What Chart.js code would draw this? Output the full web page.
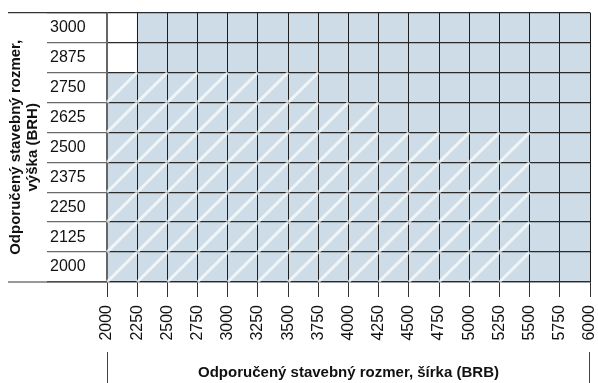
<!DOCTYPE html>
<html>
<head>
<meta charset="utf-8">
<script src="https://cdn.jsdelivr.net/npm/chart.js@4/dist/chart.umd.min.js"></script>
<style>
  html, body { margin: 0; padding: 0; background: #fff; }
  #wrap { width: 598px; height: 383px; position: relative; }
</style>
</head>
<body>
<div id="wrap"><canvas id="sizeChart"></canvas></div>
<script>
// -----------------------------
// DATA
// -----------------------------
const heights = ['2000', '2125', '2250', '2375', '2500', '2625', '2750', '2875', '3000'];
const widthTicks = [2000, 2250, 2500, 2750, 3000, 3250, 3500, 3750, 4000, 4250, 4500, 4750, 5000, 5250, 5500, 5750, 6000];

// filled range per row (width from .. to)
const rowStart = [2000, 2000, 2000, 2000, 2000, 2000, 2000, 2250, 2250];
const rowEnd = [6000, 6000, 6000, 6000, 6000, 6000, 6000, 6000, 6000];

// hatched (diagonal) range per row, null = no hatch
const hatchStart = [2000, 2000, 2000, 2000, 2000, 2000, 2000, null, null];
const hatchEnd = [5500, 5500, 5500, 5500, 5500, 4250, 3750, null, null];

const xTitle = 'Odporučený stavebný rozmer, šírka (BRB)';
const yTitle = ['Odporučený stavebný rozmer,', 'výška (BRH)'];

const FONT = "'Liberation Sans', Arial, Helvetica, sans-serif";

// -----------------------------
// HATCH, TITLES, EXTRA LINES
// -----------------------------
const extras = {
    id: 'extras',
    afterDraw(chart) {
        const ctx = chart.ctx;
        const area = chart.chartArea;
        const xs = chart.scales.x;
        const ys = chart.scales.y;
        const rowH = area.height / heights.length;

        // diagonal hatch per cell
        ctx.save();
        ctx.strokeStyle = 'rgba(255,255,255,0.7)';
        ctx.lineWidth = 3;
        heights.forEach((h, i) => {
            if (hatchEnd[i] == null) return;
            const yc = ys.getPixelForValue(i);
            const yb = yc + rowH / 2;
            const yt = yc - rowH / 2;
            for (let k = 0; k < widthTicks.length - 1; k++) {
                const a = widthTicks[k];
                const b = widthTicks[k + 1];
                if (a < hatchStart[i] || b > hatchEnd[i]) continue;
                ctx.beginPath();
                ctx.moveTo(xs.getPixelForValue(a), yb);
                ctx.lineTo(xs.getPixelForValue(b), yt);
                ctx.stroke();
            }
        });
        ctx.restore();

        // long top / bottom rules across the label column
        ctx.save();
        ctx.strokeStyle = '#333';
        ctx.lineWidth = 1.2;
        ctx.beginPath();
        ctx.moveTo(8, area.top);
        ctx.lineTo(area.left, area.top);
        ctx.moveTo(8, area.bottom);
        ctx.lineTo(area.left, area.bottom);
        ctx.stroke();

        // bracket lines around x title
        ctx.strokeStyle = '#444';
        ctx.lineWidth = 1;
        ctx.beginPath();
        ctx.moveTo(area.left + 0.5, 352);
        ctx.lineTo(area.left + 0.5, chart.height);
        ctx.moveTo(area.right - 0.5, 352);
        ctx.lineTo(area.right - 0.5, chart.height);
        ctx.stroke();

        // titles
        ctx.fillStyle = '#111';
        ctx.font = 'bold 15px ' + FONT;
        ctx.textAlign = 'center';
        ctx.textBaseline = 'middle';
        ctx.fillText(xTitle, (area.left + area.right) / 2, 373);

        ctx.translate(0, (area.top + area.bottom) / 2);
        ctx.rotate(-Math.PI / 2);
        ctx.fillText(yTitle[0], 0, 16);
        ctx.fillText(yTitle[1], 0, 33);
        ctx.restore();
    }
};

// -----------------------------
// CHART
// -----------------------------
new Chart(document.getElementById('sizeChart'), {
    type: 'bar',
    data: {
        labels: heights,
        datasets: [
            {
                data: heights.map((h, i) => [rowStart[i], rowEnd[i]]),
                backgroundColor: '#cddce6',
                borderWidth: 0,
                barPercentage: 1,
                categoryPercentage: 1
            }
        ]
    },
    options: {
        indexAxis: 'y',
        responsive: true,
        maintainAspectRatio: false,
        animation: false,
        layout: { padding: { left: 50, right: 8, top: 10, bottom: 0 } },
        plugins: {
            legend: { display: false },
            tooltip: { enabled: false }
        },
        scales: {
            x: {
                type: 'linear',
                position: 'bottom',
                min: 2000,
                max: 6000,
                afterBuildTicks: s => { s.ticks = widthTicks.map(v => ({ value: v })); },
                afterFit: s => { s.height = 101; s.paddingLeft = 0; s.paddingRight = 0; },
                ticks: {
                    autoSkip: false,
                    minRotation: 90,
                    maxRotation: 90,
                    padding: 8,
                    color: '#111',
                    font: { family: FONT, size: 16 },
                    callback: v => String(v)
                },
                grid: {
                    z: 1,
                    color: '#1e1e1e',
                    lineWidth: 1,
                    tickLength: 15,
                    tickColor: '#333'
                },
                border: { display: true, color: '#222', width: 1.2, z: 1 }
            },
            y: {
                type: 'category',
                reverse: true,
                offset: true,
                afterFit: s => { s.width = 57; },
                ticks: {
                    crossAlign: 'far',
                    color: '#111',
                    font: { family: FONT, size: 16 }
                },
                grid: {
                    z: 1,
                    offset: true,
                    color: '#2a2a2a',
                    lineWidth: 1.3,
                    tickLength: 60,
                    tickColor: '#6a6a6a'
                },
                border: { display: true, color: '#666', width: 2, z: 1 }
            }
        }
    },
    plugins: [extras]
});
</script>
</body>
</html>
